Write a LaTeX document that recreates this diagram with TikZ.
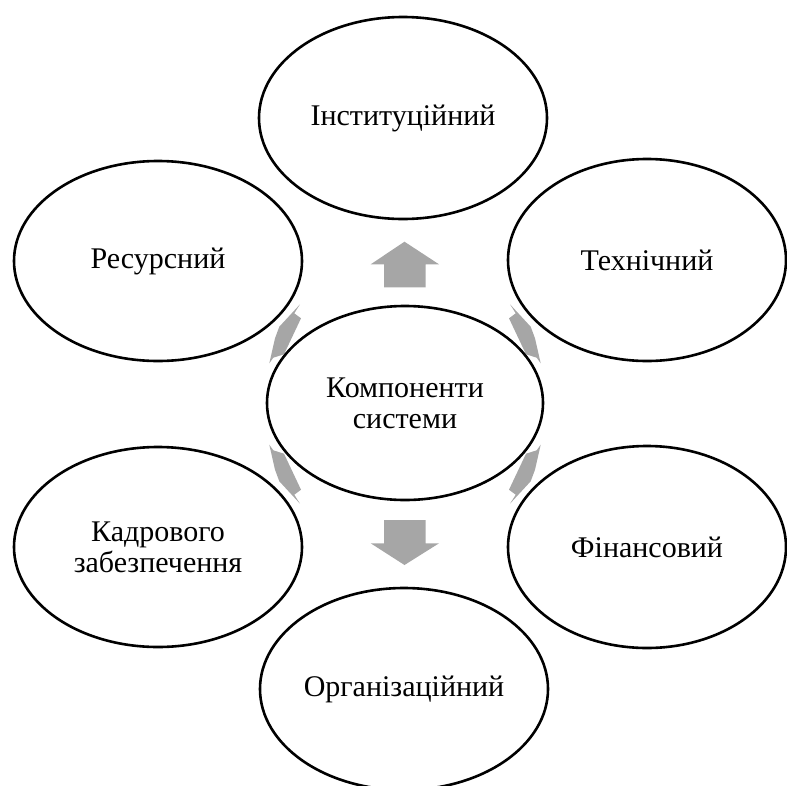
\documentclass[tikz,border=0pt]{standalone}
\usepackage{fontspec}
\setmainfont{Liberation Serif}
\usetikzlibrary{shapes.geometric}
\definecolor{arrgray}{RGB}{166,166,166}
\tikzset{
  oval/.style={ellipse, draw=black, line width=2.6pt, fill=white, inner sep=0pt, align=center,
    font=\fontsize{30}{31}\selectfont},
  blockarr/.style={fill=arrgray, draw=none}
}
\begin{document}
\begin{tikzpicture}[x=1pt,y=-1pt]
\useasboundingbox (0,0) rectangle (787,785);
\clip (0,0) rectangle (787,785);
% block arrows
\fill[blockarr] (384,287.3) -- (384,264.3) -- (370.7,264.3) -- (404.5,241.7) -- (439,264.3) -- (425.7,264.3) -- (425.7,287.3) -- cycle;
\fill[blockarr] (384,520) -- (425.7,520) -- (425.7,543.3) -- (439,543.3) -- (404.5,565) -- (370.7,543.3) -- (384,543.3) -- cycle;
\fill[blockarr] (300,304.3) -- (294.3,313.3) -- (301,318.3) -- (284,354.3) -- (273.3,357.7) -- (269.3,363.3) -- (275,338.3) -- (279.3,326.7) -- cycle;
\fill[blockarr] (510,304.3) -- (515.7,313.3) -- (509,318.3) -- (526,354.3) -- (536.7,357.7) -- (540.7,363.3) -- (535,338.3) -- (530.7,326.7) -- cycle;
\fill[blockarr] (300,503.7) -- (294.3,494.7) -- (301,489.7) -- (284,453.7) -- (273.3,450.3) -- (269.3,444.7) -- (275,469.7) -- (279.3,481.3) -- cycle;
\fill[blockarr] (510,503.7) -- (515.7,494.7) -- (509,489.7) -- (526,453.7) -- (536.7,450.3) -- (540.7,444.7) -- (535,469.7) -- (530.7,481.3) -- cycle;
% ellipses
\node[oval, minimum width=288pt, minimum height=202pt] (inst) at (403,118) {Інституційний};
\node[oval, minimum width=288pt, minimum height=200pt] (res) at (158,261) {Ресурсний};
\node[oval, minimum width=278pt, minimum height=202pt] (tech) at (647,260) {Технічний};
\node[oval, minimum width=288pt, minimum height=200pt] (kadr) at (158,547) {Кадрового\\забезпечення};
\node[oval, minimum width=278pt, minimum height=202pt] (fin) at (647,547) {Фінансовий};
\node[oval, minimum width=288pt, minimum height=202pt] (org) at (404,689) {Організаційний};
\node[oval, minimum width=276pt, minimum height=194pt] (comp) at (405,403) {Компоненти\\системи};
\end{tikzpicture}
\end{document}
